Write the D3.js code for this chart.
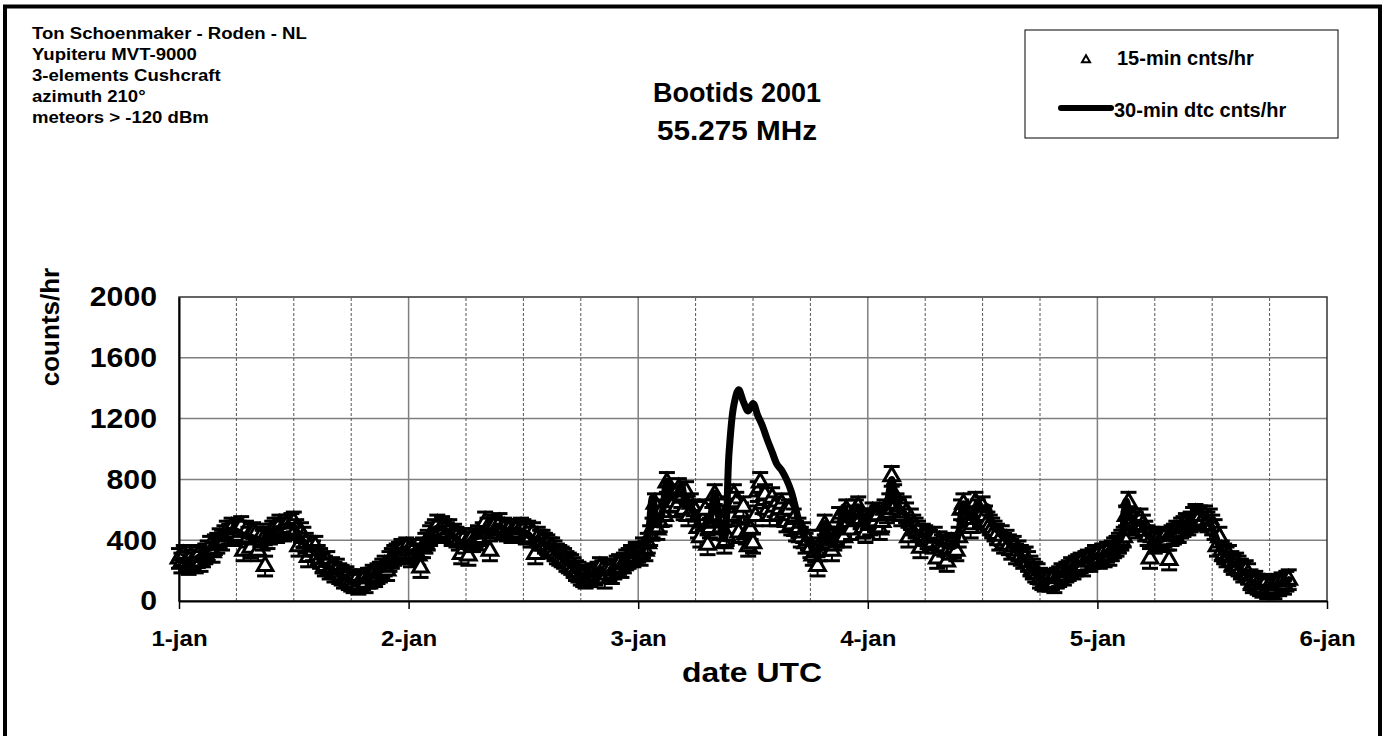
<!DOCTYPE html>
<html>
<head>
<meta charset="utf-8">
<script src="https://cdn.jsdelivr.net/npm/d3@7"></script>
<style>
  html, body { margin: 0; padding: 0; background: #fff; }
  svg { display: block; }
  text { font-family: "Liberation Sans", Arial, sans-serif; font-weight: bold; fill: #000; }
</style>
</head>
<body>
<svg id="chart" width="1388" height="736"></svg>
<script>
// 15-min counts per hour, one value per quarter hour
const counts15Day1 = [
  280, 250, 300, 260,  240, 290, 270, 250,  300, 260, 290, 310,  330, 360, 320, 370,
  380, 410, 400, 430,  460, 440, 480, 450,  470, 430, 490, 330,  460, 420, 350, 450,
  440, 330, 420, 400,  230, 410, 440, 460,  480, 450, 500, 470,  460, 500, 480, 510,
  520, 470, 360, 450,  420, 380, 290, 360,  330, 360, 300, 280,  250, 230, 260, 210,
  220, 190, 210, 180,  170, 150, 160, 140,  130, 120, 140, 110,  130, 140, 120, 150,
  150, 170, 160, 180,  190, 210, 230, 200,  260, 280, 300, 310,  320, 340, 310, 350
];
const counts15Day2 = [
  330, 290, 340, 310,  300, 220, 350, 380,  400, 430, 450, 470,  500, 460, 490, 470,
  450, 470, 430, 440,  420, 400, 310, 410,  380, 300, 410, 390,  410, 430, 400, 450,
  520, 480, 330, 500,  500, 480, 510, 470,  480, 460, 470, 450,  460, 470, 450, 480,
  470, 440, 460, 420,  450, 310, 420, 400,  400, 380, 370, 350,  350, 330, 310, 300,
  290, 280, 260, 250,  240, 220, 200, 190,  170, 160, 150, 160,  160, 180, 170, 190,
  220, 200, 150, 210,  200, 180, 210, 230,  240, 220, 250, 270,  280, 300, 290, 320
];
const counts15Day3 = [
  320, 300, 350, 330,  380, 430, 480, 640,  470, 520, 600, 560,  780, 620, 700, 650,
  620, 740, 680, 600,  720, 560, 640, 600,  590, 480, 420, 530,  600, 370, 480, 550,
  700, 560, 470, 520,  380, 430, 620, 560,  700, 650, 450, 580,  620, 440, 360, 470,
  380, 560, 720, 780,  640, 700, 600, 560,  680, 620, 560, 600,  640, 580, 520, 600,
  500, 540, 460, 480,  420, 450, 380, 400,  350, 300, 320, 230,  330, 400, 500, 420,
  380, 330, 400, 420,  550, 480, 420, 600,  520, 470, 560, 600,  620, 540, 480, 450
];
const counts15Day4 = [
  540, 500, 580, 520,  560, 470, 520, 600,  580, 640, 820, 700,  640, 600, 560, 620,
  580, 420, 540, 500,  480, 460, 350, 440,  430, 410, 400, 380,  420, 280, 390, 370,
  360, 260, 340, 380,  350, 330, 420, 600,  640, 560, 520, 480,  540, 650, 600, 560,
  620, 560, 520, 500,  480, 460, 440, 400,  430, 380, 400, 370,  340, 360, 310, 330,
  300, 280, 290, 260,  230, 210, 190, 180,  150, 140, 130, 140,  130, 140, 120, 150,
  160, 180, 170, 190,  200, 220, 210, 230,  240, 250, 230, 260,  270, 260, 280, 300
];
const counts15Day5 = [
  300, 280, 310, 290,  320, 300, 330, 350,  360, 380, 400, 420,  560, 650, 500, 540,
  520, 480, 540, 500,  460, 430, 280, 420,  380, 400, 390, 410,  420, 400, 270, 430,
  440, 460, 450, 480,  490, 510, 500, 520,  550, 570, 540, 560,  530, 560, 520, 540,
  500, 470, 360, 420,  330, 310, 290, 300,  260, 240, 250, 230,  210, 190, 200, 180,
  140, 120, 130, 110,  100, 90, 110, 80,   100, 90, 80, 110,    100, 120, 110, 130,
  140
];

// 30-min detected counts per hour, one value per half hour
const dtc30Day1 = [
  270, 265, 270, 265, 285, 300, 340, 355, 400, 420, 460, 465, 460, 440, 430, 420,
  410, 400, 400, 440, 470, 480, 490, 500, 490, 430, 390, 350, 330, 300, 240, 230,
  205, 190, 160, 150, 125, 125, 135, 140, 160, 175, 200, 220, 280, 305, 330, 335
];
const dtc30Day2 = [
  320, 325, 300, 360, 420, 460, 480, 480, 460, 435, 410, 380, 370, 400, 420, 430,
  480, 440, 490, 490, 470, 460, 465, 465, 455, 440, 400, 410, 390, 360, 340, 305,
  285, 255, 230, 195, 165, 155, 170, 180, 210, 180, 190, 220, 230, 260, 290, 305
];
const dtc30Day3 = [
  310, 340, 420, 680, 500, 580, 790, 680, 700, 760, 640, 620, 560, 480, 500, 540,
  710, 520, 410, 980, 1290, 1390, 1310, 1250, 1300, 1220, 1150, 1060, 980, 900, 860, 800,
  720, 600, 480, 410, 370, 300, 350, 510, 380, 400, 480, 620, 520, 600, 620, 500
];
const dtc30Day4 = [
  560, 600, 620, 580, 640, 800, 640, 600, 560, 500, 460, 440, 420, 400, 400, 380,
  370, 360, 360, 450, 640, 560, 540, 650, 600, 620, 500, 470, 430, 400, 360, 330,
  300, 270, 210, 180, 150, 135, 135, 145, 170, 190, 210, 225, 245, 255, 270, 285
];
const dtc30Day5 = [
  300, 290, 320, 340, 380, 420, 660, 540, 520, 510, 450, 420, 390, 400, 410, 420,
  450, 470, 500, 520, 580, 590, 560, 540, 480, 400, 320, 300, 250, 240, 200, 180,
  130, 115, 95, 90, 95, 100, 110, 120, 140
];

const dayLabels = ['1-jan', '2-jan', '3-jan', '4-jan', '5-jan', '6-jan'];
const yTicks = [0, 400, 800, 1200, 1600, 2000];
const errorBar = 65; // fixed error bar, counts/hr

const notes = [
  'Ton Schoenmaker - Roden - NL',
  'Yupiteru MVT-9000',
  '3-elements Cushcraft',
  'azimuth 210\u00b0',
  'meteors > -120 dBm'
];
const titleLines = ['Bootids 2001', '55.275 MHz'];
const legendLabels = ['15-min cnts/hr', '30-min dtc cnts/hr'];

const start = Date.UTC(2001, 0, 1);
const MIN = 60 * 1000;

const counts15 = [].concat(counts15Day1, counts15Day2, counts15Day3, counts15Day4, counts15Day5)
  .map((v, i) => ({t: new Date(start + i * 15 * MIN), v}));
const dtc30 = [].concat(dtc30Day1, dtc30Day2, dtc30Day3, dtc30Day4, dtc30Day5)
  .map((v, i) => ({t: new Date(start + i * 30 * MIN), v}));

const svg = d3.select('#chart');

const x = d3.scaleUtc()
  .domain([new Date(start), new Date(Date.UTC(2001, 0, 6))])
  .range([179, 1327]);
const y = d3.scaleLinear()
  .domain([0, 2000])
  .range([601, 297]);

// outer frame
svg.append('rect')
  .attr('x', 5).attr('y', 6.5)
  .attr('width', 1375).attr('height', 760)
  .attr('fill', 'none')
  .attr('stroke', '#000')
  .attr('stroke-width', 4);

// notes, top left (the original text is a bit wide, hence the stretch)
svg.append('g')
  .selectAll('text')
  .data(notes)
  .join('text')
  .attr('transform', (d, i) => `translate(32,${38.5 + i * 21.1}) scale(1.16,1)`)
  .attr('font-size', 16)
  .text(d => d);

// title
svg.append('g')
  .selectAll('text')
  .data(titleLines)
  .join('text')
  .attr('transform', (d, i) => `translate(737,${102 + i * 38}) scale(${i === 0 ? 1.0 : 1.1},1)`)
  .attr('text-anchor', 'middle')
  .attr('font-size', 27)
  .text(d => d);

// grid
const grid = svg.append('g');
grid.selectAll('line.h')
  .data(yTicks.filter(d => d > 0 && d < 2000))
  .join('line')
  .attr('class', 'h')
  .attr('x1', x.range()[0]).attr('x2', x.range()[1])
  .attr('y1', d => y(d)).attr('y2', d => y(d))
  .attr('stroke', '#7f7f7f')
  .attr('stroke-width', 1.5);

const sixHours = d3.utcHour.every(6).range(x.domain()[0], x.domain()[1]).slice(1);
grid.selectAll('line.v')
  .data(sixHours)
  .join('line')
  .attr('class', 'v')
  .attr('x1', d => x(d)).attr('x2', d => x(d))
  .attr('y1', y(0)).attr('y2', y(2000))
  .attr('stroke', d => d.getUTCHours() === 0 ? '#7f7f7f' : '#555')
  .attr('stroke-width', d => d.getUTCHours() === 0 ? 1.5 : 1)
  .attr('stroke-dasharray', d => d.getUTCHours() === 0 ? null : '3,2');

// plot border
svg.append('rect')
  .attr('x', x.range()[0]).attr('y', y(2000))
  .attr('width', x.range()[1] - x.range()[0])
  .attr('height', y(0) - y(2000))
  .attr('fill', 'none')
  .attr('stroke', '#333')
  .attr('stroke-width', 1.5);

// axes
const days = d3.utcDay.range(x.domain()[0], new Date(Date.UTC(2001, 0, 7)));
const xAxis = svg.append('g')
  .attr('transform', `translate(0,${y(0)})`)
  .call(d3.axisBottom(x)
    .tickValues(days)
    .tickSize(8)
    .tickSizeOuter(0)
    .tickPadding(22)
    .tickFormat((d, i) => dayLabels[i]));
xAxis.select('.domain').attr('stroke', '#000').attr('stroke-width', 2);
xAxis.selectAll('.tick line').attr('stroke', '#000').attr('stroke-width', 1.5);
xAxis.selectAll('.tick text')
  .attr('font-size', 21.5)
  .attr('transform', 'scale(1.12,1)')
  .attr('font-family', '"Liberation Sans", Arial, sans-serif')
  .attr('font-weight', 'bold');

const yAxis = svg.append('g')
  .attr('transform', `translate(${x.range()[0]},0)`)
  .call(d3.axisLeft(y)
    .tickValues(yTicks)
    .tickFormat(d3.format('d'))
    .tickSize(0)
    .tickSizeOuter(0)
    .tickPadding(0));
yAxis.select('.domain').attr('stroke', '#000').attr('stroke-width', 2);
yAxis.selectAll('.tick text')
  .attr('x', 0)
  .attr('transform', 'translate(-22,0) scale(1.08,1)')
  .attr('font-size', 28)
  .attr('font-family', '"Liberation Sans", Arial, sans-serif')
  .attr('font-weight', 'bold');

// axis titles
svg.append('text')
  .attr('transform', 'translate(752,682) scale(1.14,1)')
  .attr('text-anchor', 'middle')
  .attr('font-size', 28)
  .text('date UTC');
svg.append('text')
  .attr('transform', 'translate(59,327) rotate(-90)')
  .attr('text-anchor', 'middle')
  .attr('font-size', 26)
  .text('counts/hr');

// 15-min points with error bars
const tri = d3.symbol(d3.symbolTriangle, 105);
const capW = 8;
const pts = svg.append('g')
  .selectAll('g')
  .data(counts15)
  .join('g')
  .attr('transform', d => `translate(${x(d.t)},0)`);
pts.append('line')
  .attr('x1', 0).attr('x2', 0)
  .attr('y1', d => y(d.v - errorBar)).attr('y2', d => y(d.v + errorBar))
  .attr('stroke', '#000').attr('stroke-width', 2);
pts.append('line')
  .attr('x1', -capW).attr('x2', capW)
  .attr('y1', d => y(d.v + errorBar)).attr('y2', d => y(d.v + errorBar))
  .attr('stroke', '#000').attr('stroke-width', 3);
pts.append('line')
  .attr('x1', -capW).attr('x2', capW)
  .attr('y1', d => y(d.v - errorBar)).attr('y2', d => y(d.v - errorBar))
  .attr('stroke', '#000').attr('stroke-width', 3);
pts.append('path')
  .attr('d', tri)
  .attr('transform', d => `translate(0,${y(d.v)})`)
  .attr('fill', '#fff')
  .attr('stroke', '#000')
  .attr('stroke-width', 3);

// 30-min line
const line = d3.line()
  .x(d => x(d.t))
  .y(d => y(d.v))
  .curve(d3.curveCatmullRom.alpha(0.5));
svg.append('path')
  .datum(dtc30)
  .attr('d', line)
  .attr('fill', 'none')
  .attr('stroke', '#000')
  .attr('stroke-width', 7)
  .attr('stroke-linejoin', 'round')
  .attr('stroke-linecap', 'round');

// legend
const legend = svg.append('g');
legend.append('rect')
  .attr('x', 1025).attr('y', 30)
  .attr('width', 313).attr('height', 108)
  .attr('fill', '#fff')
  .attr('stroke', '#000')
  .attr('stroke-width', 1);
legend.append('path')
  .attr('d', d3.symbol(d3.symbolTriangle, 28))
  .attr('transform', 'translate(1086,60)')
  .attr('fill', '#fff')
  .attr('stroke', '#000')
  .attr('stroke-width', 2);
legend.append('line')
  .attr('x1', 1061).attr('x2', 1111)
  .attr('y1', 108).attr('y2', 108)
  .attr('stroke', '#000')
  .attr('stroke-width', 6)
  .attr('stroke-linecap', 'round');
legend.selectAll('text')
  .data(legendLabels)
  .join('text')
  .attr('x', (d, i) => i === 0 ? 1117 : 1114)
  .attr('y', (d, i) => i === 0 ? 65 : 117)
  .attr('font-size', 20)
  .text(d => d);
</script>
</body>
</html>
